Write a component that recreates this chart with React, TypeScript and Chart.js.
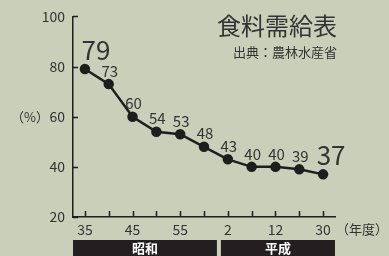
import React, { useEffect, useRef } from 'react';
import { Chart, registerables } from 'chart.js';

Chart.register(...registerables);

const categories = ['昭和35', '昭和40', '昭和45', '昭和50', '昭和55', '昭和60', '平成2', '平成7', '平成12', '平成17', '平成30'];
const tickLabels = ['35', '', '45', '', '55', '', '2', '', '12', '', '30'];
const selfSufficiency = [79, 73, 60, 54, 53, 48, 43, 40, 40, 39, 37];
const highlighted = [0, 10];
const eras = [
  { name: '昭和', from: 0, to: 5 },
  { name: '平成', from: 6, to: 10 },
];
const title = '食料需給表';
const source = '出典：農林水産省';
const yUnit = '（%）';
const xUnit = '（年度）';

const FONT = '"Noto Sans CJK JP", "Noto Sans", sans-serif';
const TEXT = '#333333';
const INK = '#1e1e1e';
const BG = '#cacfb9';

const decor = {
  id: 'decor',
  beforeDatasetsDraw(chart: any) {
    const { ctx, chartArea: ca, scales } = chart;
    const x = scales.x;
    const y = scales.y;
    ctx.save();
    ctx.strokeStyle = INK;
    ctx.lineWidth = 1.5;
    ctx.beginPath();
    y.ticks.forEach((t: any) => {
      const py = Math.round(y.getPixelForValue(t.value)) + 0.5;
      ctx.moveTo(ca.left, py);
      ctx.lineTo(ca.left + 5, py);
    });
    categories.forEach((_, i) => {
      const px = Math.round(x.getPixelForValue(i)) + 0.5;
      ctx.moveTo(px, ca.bottom);
      ctx.lineTo(px, ca.bottom - 6);
    });
    ctx.stroke();
    ctx.restore();
  },
  afterDatasetsDraw(chart: any) {
    const { ctx, chartArea: ca, scales } = chart;
    const x = scales.x;
    const y = scales.y;
    const meta = chart.getDatasetMeta(0);
    ctx.save();
    ctx.fillStyle = TEXT;
    ctx.textAlign = 'center';
    ctx.textBaseline = 'middle';
    meta.data.forEach((pt: any, i: number) => {
      const big = highlighted.includes(i);
      if (big) {
        ctx.font = `26px ${FONT}`;
        ctx.fillText(String(selfSufficiency[i]), pt.x + (i === 0 ? 11 : 8), pt.y - 19);
      } else {
        ctx.font = `15px ${FONT}`;
        ctx.fillText(String(selfSufficiency[i]), pt.x + 1, pt.y - 13);
      }
    });

    // titles
    ctx.textAlign = 'right';
    ctx.font = `24px ${FONT}`;
    ctx.fillText(title, 337, 26);
    ctx.font = `13px ${FONT}`;
    ctx.fillText(source, 337, 52);

    // axis units
    ctx.font = `13px ${FONT}`;
    ctx.textAlign = 'center';
    ctx.fillText(yUnit, 30, y.getPixelForValue(60));
    ctx.textAlign = 'left';
    ctx.fillText(xUnit, 336, 229);

    // era bars
    const half = (x.getPixelForValue(1) - x.getPixelForValue(0)) / 2;
    eras.forEach((e) => {
      const l = e.from === 0 ? ca.left : x.getPixelForValue(e.from) - half + 5;
      const r = Math.min(ca.right, x.getPixelForValue(e.to) + half + 1);
      ctx.fillStyle = '#231f20';
      ctx.fillRect(l, 240, r - l, 16);
      ctx.fillStyle = '#ffffff';
      ctx.font = `bold 13px ${FONT}`;
      ctx.textAlign = 'center';
      ctx.fillText(e.name, (l + r) / 2, 248);
    });
    ctx.restore();
  },
};

export default function App() {
  const ref = useRef<HTMLCanvasElement | null>(null);
  useEffect(() => {
    if (!ref.current) return;
    const chart = new Chart(ref.current, {
      type: 'line',
      data: {
        labels: categories,
        datasets: [
          {
            data: selfSufficiency,
            borderColor: INK,
            backgroundColor: INK,
            borderWidth: 2.5,
            pointRadius: 4,
            pointBackgroundColor: INK,
            pointBorderColor: INK,
            tension: 0,
          },
        ],
      },
      options: {
        responsive: false,
        animation: false,
        layout: { padding: { top: 14, right: 54, bottom: 0, left: 0 } },
        plugins: { legend: { display: false }, tooltip: { enabled: false } },
        scales: {
          x: {
            type: 'category',
            offset: true,
            grid: { display: false, drawTicks: false },
            border: { display: true, color: INK, width: 1.5 },
            ticks: {
              autoSkip: false,
              maxRotation: 0,
              padding: 4,
              color: TEXT,
              font: { family: FONT, size: 14 },
              callback: (_v: any, i: number) => tickLabels[i],
            },
            afterFit: (s: any) => {
              s.height = 39;
            },
          },
          y: {
            min: 20,
            max: 100,
            grid: { display: false, drawTicks: false },
            border: { display: true, color: INK, width: 1.5 },
            ticks: {
              stepSize: 20,
              padding: 8,
              color: TEXT,
              font: { family: FONT, size: 14 },
            },
            afterFit: (s: any) => {
              s.width = 73;
            },
          },
        },
      },
      plugins: [decor],
    });
    return () => chart.destroy();
  }, []);
  return (
    <div style={{ position: 'absolute', left: 0, top: 0, width: 389, height: 256, background: BG }}>
      <canvas ref={ref} width={389} height={256} />
    </div>
  );
}
